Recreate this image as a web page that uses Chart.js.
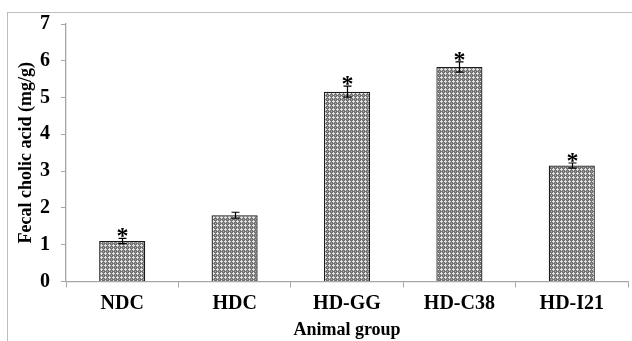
<!DOCTYPE html>
<html>
<head>
<meta charset="utf-8">
<script src="https://cdn.jsdelivr.net/npm/chart.js@4.4.0/dist/chart.umd.min.js"></script>
<style>
  html, body { margin: 0; padding: 0; background: #fff; }
  #wrap { position: relative; width: 632px; height: 341px; }
  #frame { position: absolute; left: 7px; top: 12px; right: 0; bottom: 0;
           border-left: 1px solid #bdbdbd; border-top: 1px solid #bdbdbd; }
  canvas { position: absolute; left: 0; top: 0; }
</style>
</head>
<body>
<div id="wrap">
  <div id="frame"></div>
  <canvas id="chart" width="632" height="341"></canvas>
</div>
<script>
// data
var groups = ["NDC", "HDC", "HD-GG", "HD-C38", "HD-I21"];
var cholicAcid = [1.1, 1.8, 5.16, 5.83, 3.15];
var errors = [0.07, 0.08, 0.15, 0.14, 0.07];
var significant = [true, false, true, true, true];

// grey hatch like the original fill
function makePattern() {
  var c = document.createElement("canvas");
  c.width = 4; c.height = 4;
  var g = c.getContext("2d");
  g.fillStyle = "#737373";
  g.fillRect(0, 0, 4, 4);
  g.fillStyle = "#e2e2e2";
  g.fillRect(1, 0, 1, 3);
  g.fillRect(0, 1, 3, 1);
  g.fillStyle = "#a8a8a8";
  g.fillRect(3, 3, 1, 1);
  return document.getElementById("chart").getContext("2d").createPattern(c, "repeat");
}

var errorBars = {
  id: "errorBars",
  afterDatasetsDraw: function(chart) {
    var ctx = chart.ctx;
    var y = chart.scales.y;
    var meta = chart.getDatasetMeta(0);
    ctx.save();
    ctx.strokeStyle = "#000";
    ctx.lineWidth = 1.2;
    meta.data.forEach(function(bar, i) {
      var x = Math.round(bar.x) + 0.5;
      var top = y.getPixelForValue(cholicAcid[i] + errors[i]);
      var bot = y.getPixelForValue(cholicAcid[i] - errors[i]);
      ctx.beginPath();
      ctx.moveTo(x, top); ctx.lineTo(x, bot);
      ctx.moveTo(x - 4, top); ctx.lineTo(x + 4, top);
      ctx.moveTo(x - 4, bot); ctx.lineTo(x + 4, bot);
      ctx.stroke();
      if (significant[i]) {
        ctx.fillStyle = "#000";
        ctx.font = "bold 24px 'Liberation Serif'";
        ctx.textAlign = "center";
        ctx.textBaseline = "alphabetic";
        ctx.fillText("*", x, top + 5);
      }
    });
    ctx.restore();
  }
};

new Chart(document.getElementById("chart"), {
  type: "bar",
  data: {
    labels: groups,
    datasets: [{
      data: cholicAcid,
      backgroundColor: makePattern(),
      borderColor: "#1a1a1a",
      borderWidth: 1.3,
      borderSkipped: "bottom",
      categoryPercentage: 0.41,
      barPercentage: 1.0
    }]
  },
  options: {
    responsive: false,
    animation: false,
    layout: { padding: { left: 16, right: 4, top: 24, bottom: 0 } },
    plugins: { legend: { display: false }, tooltip: { enabled: false } },
    scales: {
      x: {
        grid: { offset: true, drawOnChartArea: false, color: "#a6a6a6", tickLength: 6 },
        border: { color: "#a6a6a6", width: 1.3 },
        ticks: { color: "#000", font: { family: "Liberation Serif", size: 20, weight: "bold" }, padding: 4 },
        title: { display: true, text: "Animal group", color: "#000",
                 font: { family: "Liberation Serif", size: 18, weight: "bold" }, padding: { top: 0, bottom: 0 } }
      },
      y: {
        min: 0, max: 7,
        afterFit: function(s) { s.width = 50; },
        grid: { drawOnChartArea: false, color: "#a6a6a6", tickLength: 5 },
        border: { color: "#a6a6a6", width: 1.3 },
        ticks: { stepSize: 1, color: "#000", font: { family: "Liberation Serif", size: 20, weight: "bold" }, padding: 11 },
        title: { display: true, text: "Fecal cholic acid (mg/g)", color: "#000",
                 font: { family: "Liberation Serif", size: 18, weight: "bold" }, padding: { top: 0, bottom: 0 } }
      }
    }
  },
  plugins: [errorBars]
});
</script>
</body>
</html>
